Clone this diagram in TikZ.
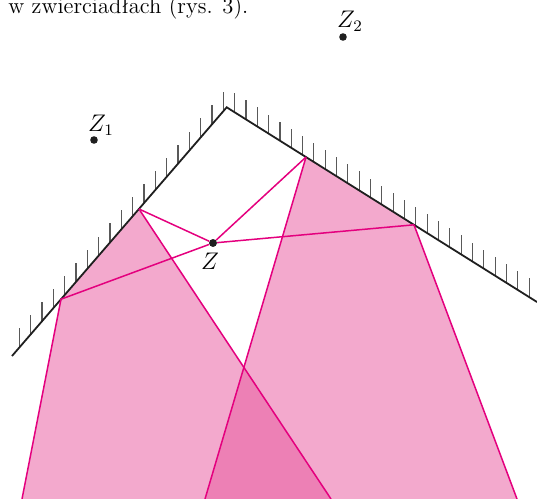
\documentclass[tikz,border=0pt]{standalone}
\usepackage{fontspec}
\definecolor{raycol}{RGB}{228,0,126}
\definecolor{beamcol}{RGB}{232,92,160}
\begin{document}
\begin{tikzpicture}[x=0.5pt,y=-0.5pt,
  mirror/.style={line width=0.9pt, black!88},
  hatch/.style={line width=0.55pt, black!65},
  ray/.style={line width=0.75pt, raycol},
  beam/.style={fill=beamcol, fill opacity=0.53},
  dot/.style={circle, fill=black!88, inner sep=0pt, minimum size=3.8pt},
  lab/.style={inner sep=0pt, font=\fontsize{12}{14}\selectfont},
  txtfont/.style={inner sep=0pt, font=\fontsize{11.3}{13}\selectfont}]
\useasboundingbox (0,0) rectangle (537,499);
% mirror geometry
\coordinate (L) at (12,356);
\coordinate (P) at (226.7,107.3);
\coordinate (R) at (537,302);
% reflection points
\coordinate (A) at (139,209);
\coordinate (B) at (61,299.2);
\coordinate (C) at (306,157.1);
\coordinate (D) at (414,224.8);
% beam ends at the bottom edge
\coordinate (Ab) at (331,499);
\coordinate (Bb) at (22,499);
\coordinate (Cb) at (205,499);
\coordinate (Db) at (517,499);
% beams
\fill[beam] (B) -- (A) -- (Ab) -- (Bb) -- cycle;
\fill[beam] (C) -- (D) -- (Db) -- (Cb) -- cycle;
% hatching
\foreach \k in {-18,...,27} {
  \pgfmathsetmacro{\hx}{223.3+11.33*\k}
  \pgfmathsetmacro{\hy}{\hx<226.7 ? 107.3+(226.7-\hx)*1.1584 : 107.3+(\hx-226.7)*0.6275}
  \draw[hatch] (\hx,\hy) -- ++(0,-19);
}
% mirrors
\draw[mirror, line join=miter] (L) -- (P) -- (R);
% points
\node[dot] (Z) at (213,243) {};
\node[dot] (Z1) at (94,140) {};
\node[dot] (Z2) at (343,37) {};
% rays
\draw[ray] (Z) -- (A);
\draw[ray] (Z) -- (B);
\draw[ray] (Z) -- (C);
\draw[ray] (Z) -- (D);
\draw[ray] (A) -- (Ab);
\draw[ray] (B) -- (Bb);
\draw[ray] (C) -- (Cb);
\draw[ray] (D) -- (Db);
\node[dot] at (Z) {};
% labels
\node[lab] (zl) at (210,261) {$Z$};
\node[lab] (z1l) at (101,125) {$Z_1$};
\node[lab] (z2l) at (350,21) {$Z_2$};
\node[txtfont, anchor=base west] (txt) at (8,13) {w zwierciadłach (rys. 3).};
\end{tikzpicture}
\end{document}
